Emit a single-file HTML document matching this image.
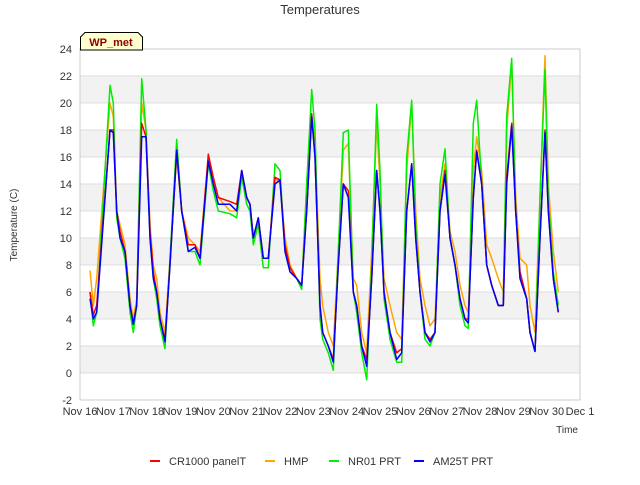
<!DOCTYPE html>
<html><head><meta charset="utf-8"><style>
body{margin:0;background:#fff;font-family:"Liberation Sans",sans-serif}
svg text{font-family:"Liberation Sans",sans-serif}
</style></head><body>
<svg id="c" width="640" height="480" viewBox="0 0 640 480">
<text x="320" y="14" text-anchor="middle" font-size="13" fill="#333">Temperatures</text>
<text transform="translate(17,225) rotate(-90)" text-anchor="middle" font-size="10" fill="#333">Temperature (C)</text>
<text x="578" y="433" text-anchor="end" font-size="10" fill="#333">Time</text>
<g id="grid"></g>
<g id="series"></g>
<rect x="80" y="49" width="500" height="351" fill="none" stroke="#ccc"/>
<g>
<path d="M80.5,50 L80.5,37 L85,32.5 L138,32.5 L142.5,37 L142.5,50 Z" fill="#ffffcc" stroke="#000"/>
<text x="111" y="46" text-anchor="middle" font-size="11" font-weight="bold" fill="#8b0000">WP_met</text>
</g>
<g id="legend"></g>
</svg>
<script>
const times=[0.30,0.40,0.50,0.90,1.00,1.10,1.20,1.35,1.50,1.60,1.70,1.85,1.98,2.10,2.20,2.30,2.40,2.55,2.70,2.90,3.05,3.25,3.45,3.60,3.85,4.00,4.15,4.50,4.70,4.85,5.00,5.10,5.20,5.35,5.50,5.65,5.85,6.00,6.15,6.30,6.50,6.65,6.80,6.95,7.05,7.20,7.28,7.45,7.60,7.75,7.90,8.05,8.20,8.30,8.45,8.60,8.75,8.90,9.00,9.12,9.30,9.50,9.65,9.80,9.95,10.07,10.20,10.35,10.50,10.65,10.80,10.95,11.10,11.25,11.40,11.55,11.65,11.80,11.90,12.05,12.20,12.35,12.55,12.70,12.80,12.95,13.07,13.20,13.40,13.50,13.65,13.80,13.95,14.05,14.20,14.35];
const am25t=[5.5,4,4.5,18,17.8,12,10,9,5,3.6,5,17.5,17.5,10,7,6,4,2.3,8,16.5,12,9,9.3,8.5,15.7,14,12.5,12.5,12,15,13,12.5,10,11.5,8.5,8.5,14,14.3,9,7.5,7,6.5,12,19,16,5,3,2,0.8,8,14,13,6,5,2,0.5,7,15,12,6,3,1,1.5,12,15.5,10,6,3,2.3,3,12,14.7,10,8,5.5,4,3.7,13,16.4,14,8,6.5,5,5,14,18.3,12,7,5.5,3,1.6,10,17.8,12,7,4.5];
const cr1000=[6,4.3,5,18,18,12,10.5,9,5,3.7,5,18.5,17.5,10.5,7.5,6,4,2.5,8,16.5,12,9.5,9.5,8.5,16.2,14.5,13,12.7,12.5,15,13,12.5,10,11.5,8.5,8.5,14.5,14.3,9.5,7.8,7,6.5,12,19.2,16,5,3,2,1,8,14,13.5,6,5,2,1,7,15,12,6,3,1.5,1.8,12,15.5,10,6,3,2.5,3,12,15,10,8,5.5,4,4,13,16.5,14,8,6.5,5,5,14.5,18.5,12,7.5,5.5,3,1.6,10,18,12,7,4.5];
const hmp=[7.6,5,7,20,19,12,11,9.5,5.5,4,5.5,20,18,11,8,7,4.5,3,8.5,16,12,10,9.5,9,16,14,13,12,12,14.5,13,12.5,10,11,8.5,8.5,14.5,14,10,8,7,6.5,14,19,17,7,5,3,2,9,16.5,17,7,6.5,3,1.5,9,18.5,14,7,5,3,2.5,15,20,12,7,5,3.5,4,13,15.5,10.5,9,6.5,5,4.5,15,17.5,15,9.5,8.5,7,6,18,23,13,8.5,8,5,3,13,23.5,14,9,6];
const nr01=[6,3.5,4.5,21.3,20,11.5,10,8.5,4.5,3,5,21.8,18,10,7,5.5,3.5,1.8,8.5,17.3,12,9,9,8,15.5,13.5,12,11.8,11.5,14.5,12.5,12,9.5,11,7.8,7.8,15.5,15,9,7.5,7,6.2,14,21,18,4,2.5,1.5,0.2,9,17.8,18,6,4.5,1.5,-0.5,8,19.9,15,5.5,2.5,0.8,0.8,16,20.2,11,6,2.5,2,3,14,16.6,10,8,5,3.5,3.3,18.5,20.2,14,8,6.5,5,5,19,23.3,12,7,5.5,3,1.6,13,22.5,13,7.5,5];
const yTicks=[-2,0,2,4,6,8,10,12,14,16,18,20,22,24];
const xTickLabels=["Nov 16","Nov 17","Nov 18","Nov 19","Nov 20","Nov 21","Nov 22","Nov 23","Nov 24","Nov 25","Nov 26","Nov 27","Nov 28","Nov 29","Nov 30","Dec 1"];
const seriesNames=["CR1000 panelT","HMP","NR01 PRT","AM25T PRT"];
const seriesColors=["#ff0000","#ffa500","#00ee00","#0000ff"];
const NS="http://www.w3.org/2000/svg";
const X0=80,X1=580,Y0=400,Y1=49;
function sx(d){return X0+(X1-X0)*d/15;}
function sy(v){return Y0-(Y0-Y1)*(v+2)/26;}
function mk(tag,attrs,parent){const e=document.createElementNS(NS,tag);for(const k in attrs)e.setAttribute(k,attrs[k]);parent.appendChild(e);return e;}
const grid=document.getElementById('grid');
for(let i=0;i<yTicks.length-1;i++){
  if((yTicks[i]/2)%2===0 && yTicks[i]>=0){
    const b=mk('rect',{x:X0,y:sy(yTicks[i]+2),width:X1-X0,height:sy(yTicks[i])-sy(yTicks[i]+2),fill:'#f2f2f2'},grid);
    
    
  }
}
yTicks.forEach(v=>{
  const l=mk('line',{x1:X0,x2:X1,y1:sy(v),y2:sy(v),stroke:'#dddddd'},grid);
  
  
  const t=mk('text',{x:72,y:sy(v)+4,'text-anchor':'end','font-size':'11',fill:'#333'},grid);
  t.textContent=v;
  
  
});
xTickLabels.forEach((s,i)=>{
  const t=mk('text',{x:sx(i),y:415,'text-anchor':'middle','font-size':'11',fill:'#333'},grid);
  t.textContent=s;
  
  
});
const ser=document.getElementById('series');
const order=[[hmp,1],[nr01,2],[cr1000,0],[am25t,3]];
order.forEach(([vals,ci])=>{
  const d=vals.map((v,i)=>(i?'L':'M')+sx(times[i]).toFixed(1)+','+sy(v).toFixed(1)).join(' ');
  const p=mk('path',{d:d,fill:'none',stroke:seriesColors[ci],'stroke-width':'1.5','stroke-linejoin':'round'},ser);
  
  
});
const leg=document.getElementById('legend');
const lx=[150,265,329,414];
seriesNames.forEach((n,i)=>{
  const g=mk('g',{},leg);
  
  
  mk('line',{x1:lx[i],x2:lx[i]+10,y1:461,y2:461,stroke:seriesColors[i],'stroke-width':'2'},g);
  const t=mk('text',{x:lx[i]+19,y:465,'font-size':'11',fill:'#333'},g);
  t.textContent=n;
});
</script>
</body></html>
